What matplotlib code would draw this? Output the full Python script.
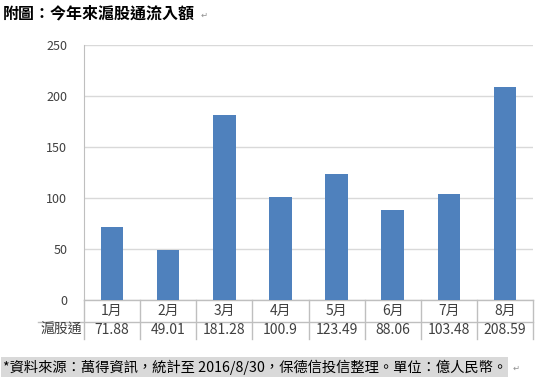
import matplotlib
matplotlib.use("Agg")
import matplotlib.pyplot as plt
from matplotlib.transforms import blended_transform_factory

plt.rcParams['font.family'] = ['Noto Sans CJK TC', 'DejaVu Sans']

months = ["1月", "2月", "3月", "4月", "5月", "6月", "7月", "8月"]
flows = [71.88, 49.01, 181.28, 100.9, 123.49, 88.06, 103.48, 208.59]
flow_labels = ["71.88", "49.01", "181.28", "100.9", "123.49", "88.06", "103.48", "208.59"]
series_name = "滬股通"
yticks = [0, 50, 100, 150, 200, 250]

W, H = 545, 379
fig = plt.figure(figsize=(W / 100, H / 100), dpi=100)
ax = fig.add_axes([84 / W, 1 - 300 / H, (533 - 84) / W, 255 / H])

x = list(range(len(months)))
ax.bar(x, flows, width=0.4, color="#4F81BD", zorder=3)
ax.set_xlim(-0.5, len(months) - 0.5)
ax.set_ylim(0, 250)
ax.set_yticks(yticks)
ax.set_yticklabels([str(v) for v in yticks], fontsize=9, color="#404040")
ax.tick_params(axis="y", length=0, pad=12)
ax.set_xticks([])
ax.grid(axis="y", color="#D9D9D9", linewidth=1, zorder=0)
for s in ["top", "right", "bottom"]:
    ax.spines[s].set_visible(False)
ax.spines["left"].set_color("#BFBFBF")

# data table below the axis
tr = blended_transform_factory(ax.transData, fig.transFigure)
y0 = 1 - 300 / H
y1 = 1 - 322 / H
y2 = 1 - 339 / H
line_kw = dict(color="#BFBFBF", linewidth=1, clip_on=False)
ax.plot([-0.5, len(months) - 0.5], [y0, y0], transform=tr, **line_kw)
ax.plot([38 / W, 533 / W], [y1, y1], transform=fig.transFigure, **line_kw)
for b in range(len(months) + 1):
    ax.plot([b - 0.5, b - 0.5], [y0, y2], transform=tr, **line_kw)
for i, m in enumerate(months):
    ax.text(i, 1 - 311 / H, m, transform=tr, ha="center", va="center",
            fontsize=10, color="#404040")
    ax.text(i, 1 - 330 / H, flow_labels[i], transform=tr, ha="center",
            va="center", fontsize=10, color="#404040")
fig.text(82 / W, 1 - 330 / H, series_name, ha="right", va="center",
         fontsize=10, color="#404040")

# title and footer
fig.text(3 / W, 1 - 13 / H, "附圖：今年來滬股通流入額", ha="left",
         va="center", fontsize=11.5, fontweight="bold", color="black")
fig.text(201 / W, 1 - 15 / H, "↵", ha="left", va="center", fontsize=6,
         color="#909090", family="DejaVu Sans")

foot = "*資料來源：萬得資訊，統計至 2016/8/30，保德信投信整理。單位：億人民幣。"
fig.patches.append(plt.Rectangle((1 / W, 1 - 377 / H), 507 / W, 20 / H,
                                 transform=fig.transFigure,
                                 facecolor="#D9D9D9", edgecolor="none"))
fig.text(3 / W, 1 - 367 / H, foot, ha="left", va="center", fontsize=10.3,
         color="black")
fig.text(513 / W, 1 - 368 / H, "↵", ha="left", va="center", fontsize=6,
         color="#909090", family="DejaVu Sans")

fig.savefig("out.png", dpi=100)
